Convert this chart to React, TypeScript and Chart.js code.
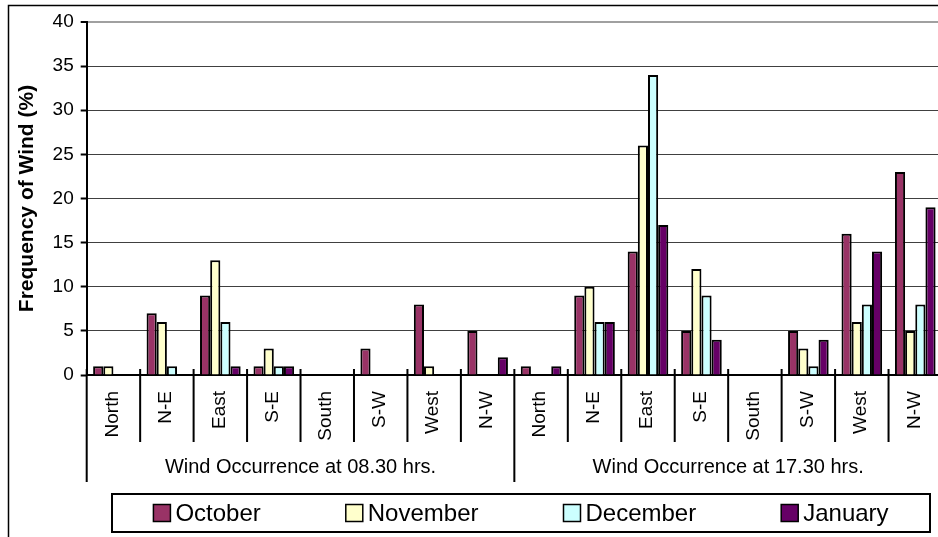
import React, { useEffect, useRef } from 'react';
import { Chart, registerables } from 'chart.js';

Chart.register(...registerables);

const directions = ['North', 'N-E', 'East', 'S-E', 'South', 'S-W', 'West', 'N-W'];
const groupLabels = ['Wind Occurrence at 08.30 hrs.', 'Wind Occurrence at 17.30 hrs.'];
const categories = [...directions, ...directions];

const seriesNames = ['October', 'November', 'December', 'January'];
const october = [1, 7, 9, 1, 0, 3, 8, 5, 1, 9, 14, 5, 0, 5, 16, 23];
const november = [1, 6, 13, 3, 0, 0, 1, 0, 0, 10, 26, 12, 0, 3, 6, 5];
const december = [0, 1, 6, 1, 0, 0, 0, 0, 0, 6, 34, 9, 0, 1, 8, 8];
const january = [0, 0, 1, 1, 0, 0, 0, 2, 1, 6, 17, 4, 0, 4, 14, 19];
const seriesColors = ['#993366', '#FFFFCC', '#CCFFFF', '#660066'];

const yMin = 0;
const yMax = 40;
const yStep = 5;
const yTitle = 'Frequency of Wind (%)';

const FONT = 'Arial, "Liberation Sans", sans-serif';

const decorPlugin = {
  id: 'decor',
  beforeDraw(chart: any) {
    const ctx = chart.ctx;
    ctx.save();
    ctx.fillStyle = '#ffffff';
    ctx.fillRect(0, 0, chart.width, chart.height);
    ctx.strokeStyle = '#000000';
    ctx.lineWidth = 1.5;
    ctx.beginPath();
    ctx.moveTo(8.5, chart.height + 2);
    ctx.lineTo(8.5, 5.5);
    ctx.lineTo(chart.width + 2, 5.5);
    ctx.stroke();
    ctx.restore();
  },
  afterDraw(chart: any) {
    const ctx = chart.ctx;
    const xs = chart.scales.x;
    const labels: string[] = chart.data.labels;
    const n = labels.length;
    const per = directions.length;
    const top = xs.top;
    ctx.save();
    ctx.strokeStyle = '#000000';
    ctx.lineWidth = 2;
    ctx.beginPath();
    for (let i = 0; i <= n; i++) {
      const px = xs.getPixelForValue(i - 0.5);
      const isGroup = i % per === 0;
      ctx.moveTo(px, top - 6);
      ctx.lineTo(px, isGroup ? top + 107 : top + 67);
    }
    ctx.stroke();

    // category labels (rotated, anchored at the top)
    ctx.fillStyle = '#000000';
    ctx.font = `19px ${FONT}`;
    ctx.textAlign = 'right';
    ctx.textBaseline = 'middle';
    labels.forEach((lab, i) => {
      const px = xs.getPixelForValue(i);
      ctx.save();
      ctx.translate(px - 1, top + 16);
      ctx.rotate(-Math.PI / 2);
      ctx.fillText(lab, 0, 0);
      ctx.restore();
    });

    // group labels
    ctx.font = `20px ${FONT}`;
    ctx.textAlign = 'center';
    ctx.textBaseline = 'middle';
    groupLabels.forEach((g, gi) => {
      const a = xs.getPixelForValue(gi * per - 0.5);
      const b = xs.getPixelForValue((gi + 1) * per - 0.5);
      ctx.fillText(g, (a + b) / 2, top + 92);
    });

    // legend
    const boxL = 112, boxR = 930, boxT = 494, boxB = 532;
    ctx.lineWidth = 2;
    ctx.strokeRect(boxL, boxT, boxR - boxL, boxB - boxT);
    ctx.font = `24px ${FONT}`;
    ctx.textAlign = 'left';
    const sq = 17, gapSq = 5, gapItem = 85;
    const widths = seriesNames.map((s) => sq + gapSq + ctx.measureText(s).width);
    const total = widths.reduce((a, b) => a + b, 0) + gapItem * (seriesNames.length - 1);
    let x = (boxL + boxR) / 2 - total / 2;
    const cy = (boxT + boxB) / 2;
    chart.data.datasets.forEach((ds: any, i: number) => {
      ctx.fillStyle = ds.backgroundColor;
      ctx.fillRect(x, cy - sq / 2, sq, sq);
      ctx.lineWidth = 1.5;
      ctx.strokeStyle = '#000000';
      ctx.strokeRect(x, cy - sq / 2, sq, sq);
      ctx.fillStyle = '#000000';
      ctx.fillText(ds.label, x + sq + gapSq, cy + 1);
      x += widths[i] + gapItem;
    });
    ctx.restore();
  },
};

export default function App() {
  const ref = useRef<HTMLCanvasElement | null>(null);

  useEffect(() => {
    if (!ref.current) return;
    const series = [october, november, december, january];
    const chart = new Chart(ref.current, {
      type: 'bar',
      data: {
        labels: categories,
        datasets: series.map((vals, i) => ({
          label: seriesNames[i],
          data: vals.map((v) => (v === 0 ? null : v)),
          backgroundColor: seriesColors[i],
          borderColor: '#000000',
          borderWidth: 2,
          categoryPercentage: 0.76,
          barPercentage: 1,
        })),
      },
      options: {
        responsive: false,
        animation: false,
        devicePixelRatio: 1,
        layout: { padding: { top: 22, left: 0, right: 8, bottom: 0 } },
        plugins: {
          legend: { display: false },
          title: { display: false },
          tooltip: { enabled: false },
        },
        scales: {
          x: {
            type: 'category',
            grid: { display: false },
            border: { display: true, color: '#000000', width: 2 },
            ticks: { display: false },
            afterFit: (s: any) => {
              s.height = 162;
            },
          },
          y: {
            min: yMin,
            max: yMax,
            ticks: {
              stepSize: yStep,
              color: '#000000',
              font: { family: FONT, size: 19 },
              padding: 7,
            },
            grid: {
              color: (c: any) => (c.tick && c.tick.value === yMax ? '#a0a0a0' : '#404040'),
              lineWidth: (c: any) => (c.tick && c.tick.value === yMax ? 2 : 1),
              tickColor: '#000000',
              tickLength: 6,
              tickWidth: 2,
            },
            border: { display: true, color: '#000000', width: 2 },
            title: {
              display: true,
              text: yTitle,
              color: '#000000',
              font: { family: FONT, size: 21, weight: 'bold' },
              padding: { top: 15, bottom: 0 },
            },
            afterFit: (s: any) => {
              s.width = 86.7;
            },
          },
        },
      },
      plugins: [decorPlugin],
    });
    return () => chart.destroy();
  }, []);

  return (
    <div
      style={{
        position: 'absolute',
        left: 0,
        top: 0,
        width: 938,
        height: 537,
        overflow: 'hidden',
        background: '#ffffff',
      }}
    >
      <canvas ref={ref} width={950} height={537} style={{ display: 'block' }} />
    </div>
  );
}
